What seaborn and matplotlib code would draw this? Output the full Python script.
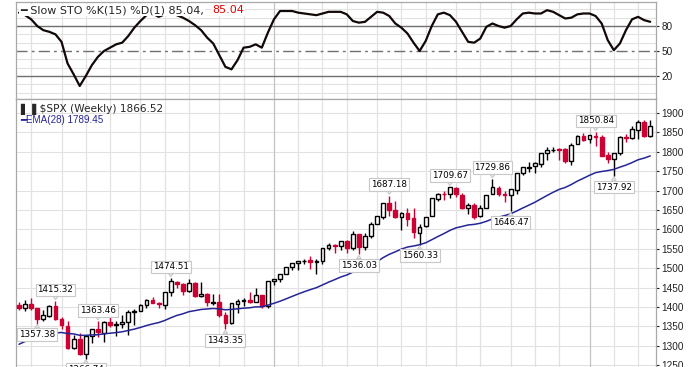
"""Weekly $SPX candlesticks with EMA(28) and a Slow Stochastic panel."""

import matplotlib

matplotlib.use("Agg")
import matplotlib.pyplot as plt
import numpy as np
import pandas as pd
import seaborn as sns

# ---- data (weekly bars from 2012-03-19 to 2014-03-17) ----
week_start = "2012-03-19"
n_weeks = 105

opens = [
    1404, 1397, 1408, 1397, 1370, 1378, 1403, 1368, 1351, 1295,
    1318, 1278, 1325, 1343, 1334, 1362, 1354, 1357, 1362, 1386,
    1391, 1405, 1418, 1411, 1406, 1438, 1465, 1460, 1441, 1461,
    1428, 1433, 1410, 1414, 1380, 1360, 1409, 1416, 1418, 1413,
    1430, 1402, 1466, 1472, 1486, 1503, 1513, 1518, 1520, 1515,
    1518, 1551, 1560, 1557, 1569, 1553, 1588, 1555, 1582, 1614,
    1633, 1667, 1650, 1631, 1643, 1630, 1590, 1609, 1634, 1679,
    1692, 1690, 1708, 1688, 1655, 1664, 1635, 1656, 1691, 1707,
    1688, 1688, 1702, 1745, 1759, 1763, 1769, 1798, 1804, 1806,
    1806, 1776, 1819, 1841, 1832, 1842, 1837, 1791, 1782, 1797,
    1838, 1836, 1857, 1878, 1842,
]
highs = [
    1414, 1419, 1422, 1397, 1392, 1406, 1415.32, 1373, 1365, 1328,
    1334, 1329, 1343, 1363.46, 1363, 1375, 1365, 1380, 1392, 1395,
    1407, 1420, 1426, 1414, 1438, 1474.51, 1467, 1463, 1471, 1464,
    1464, 1435, 1434, 1434, 1388, 1409, 1421, 1424, 1439, 1448,
    1431, 1468, 1473, 1486, 1503, 1514, 1518, 1524, 1531, 1525,
    1552, 1564, 1563, 1570, 1573, 1597, 1589, 1592, 1618, 1635,
    1668, 1687.18, 1674, 1646, 1654, 1654, 1615, 1632, 1680, 1693,
    1698, 1709.67, 1709, 1694, 1669, 1669, 1664, 1689, 1729.86, 1711,
    1699, 1704, 1745, 1760, 1775, 1774, 1798, 1813, 1813, 1810,
    1811, 1823, 1844, 1849, 1843, 1850.84, 1844, 1799, 1798, 1841,
    1847, 1867, 1883, 1882, 1883,
]
lows = [
    1392, 1391, 1392, 1357.38, 1365, 1375, 1367, 1343, 1292, 1291,
    1277, 1266.74, 1306, 1324, 1309, 1348, 1325, 1345, 1329, 1354,
    1391, 1398, 1410, 1397, 1396, 1429, 1450, 1430, 1439, 1425,
    1426, 1403, 1405, 1373, 1343.35, 1357, 1385, 1403, 1411, 1413,
    1398, 1398, 1456, 1465, 1485, 1495, 1495, 1511, 1497, 1485,
    1512, 1548, 1538, 1546, 1539, 1548, 1536.03, 1548, 1577, 1613,
    1628, 1635, 1630, 1598, 1608, 1577, 1560.33, 1605, 1634, 1672,
    1676, 1682, 1683, 1652, 1639, 1627, 1633, 1656, 1691, 1687,
    1670, 1646.47, 1692, 1740, 1747, 1746, 1761, 1780, 1799, 1779,
    1772, 1767, 1819, 1827, 1823, 1815, 1790, 1770, 1737.92, 1792,
    1825, 1834, 1834, 1839, 1839,
]
closes = [
    1397.11, 1408.47, 1398.08, 1370.26, 1378.53, 1403.36, 1369.10, 1353.39, 1295.22, 1317.82,
    1278.04, 1325.66, 1342.84, 1335.02, 1362.16, 1354.68, 1356.78, 1362.66, 1385.97, 1390.99,
    1405.87, 1418.16, 1411.13, 1406.58, 1437.92, 1465.77, 1460.15, 1440.67, 1460.93, 1428.59,
    1433.19, 1411.94, 1414.20, 1379.85, 1359.88, 1409.15, 1416.18, 1418.07, 1413.58, 1430.15,
    1402.43, 1466.47, 1472.05, 1485.98, 1502.96, 1513.17, 1517.93, 1519.79, 1515.60, 1518.20,
    1551.18, 1560.70, 1556.89, 1569.19, 1553.28, 1588.85, 1555.25, 1582.24, 1614.42, 1633.70,
    1667.47, 1649.60, 1630.74, 1643.38, 1626.73, 1592.43, 1606.28, 1631.89, 1680.19, 1692.09,
    1691.65, 1709.67, 1691.42, 1655.83, 1663.50, 1632.97, 1655.17, 1687.99, 1709.91, 1691.75,
    1690.50, 1703.20, 1744.50, 1759.77, 1761.64, 1770.61, 1798.18, 1804.76, 1805.81, 1805.09,
    1775.32, 1818.32, 1841.40, 1831.37, 1842.37, 1838.70, 1790.29, 1782.59, 1797.02, 1838.63,
    1836.25, 1859.45, 1878.04, 1841.13, 1866.52,
]
close_before_first = 1404.17

ema28 = [
    1304.0, 1311.2, 1317.2, 1320.9, 1324.9, 1330.3, 1333.0, 1334.4, 1331.7, 1330.7,
    1327.1, 1327.0, 1328.1, 1328.6, 1330.9, 1332.5, 1334.2, 1336.2, 1339.6, 1343.1,
    1347.4, 1352.3, 1356.4, 1359.9, 1365.3, 1372.2, 1378.3, 1382.6, 1388.0, 1390.8,
    1393.7, 1395.0, 1396.3, 1395.2, 1392.8, 1393.9, 1395.4, 1397.0, 1398.1, 1400.3,
    1400.4, 1405.0, 1409.6, 1414.9, 1421.0, 1427.4, 1433.6, 1439.5, 1444.8, 1449.9,
    1456.9, 1464.1, 1470.5, 1477.3, 1482.5, 1489.8, 1494.3, 1500.4, 1508.3, 1517.0,
    1527.4, 1535.8, 1542.3, 1549.3, 1554.6, 1557.2, 1560.6, 1565.5, 1573.4, 1581.6,
    1589.2, 1597.5, 1604.0, 1607.6, 1611.5, 1613.0, 1615.9, 1620.9, 1627.0, 1631.5,
    1635.6, 1640.3, 1647.5, 1655.2, 1662.5, 1670.0, 1678.8, 1687.5, 1695.7, 1703.2,
    1708.2, 1715.8, 1724.5, 1731.9, 1739.5, 1746.3, 1749.3, 1751.6, 1754.7, 1760.5,
    1765.7, 1772.2, 1779.5, 1783.8, 1789.45,
]

slow_sto = [
    96, 93, 88, 80, 75, 73, 70, 61, 35, 22,
    8, 20, 33, 43, 50, 54, 58, 60, 68, 78,
    86, 93, 95, 91, 94, 96, 93, 90, 86, 81,
    75, 66, 59, 45, 31, 28, 39, 54, 55, 58,
    54, 72, 88, 98, 98, 98, 96, 95, 94, 93,
    95, 97, 97, 97, 94, 86, 84, 85, 91, 97,
    96, 92, 83, 78, 71, 60, 50, 62, 80, 94,
    96, 93, 85, 73, 61, 60, 65, 79, 83, 80,
    78, 80, 88, 95, 96, 95, 95, 99, 97, 93,
    89, 90, 94, 95, 95, 92, 83, 63, 51, 59,
    75, 88, 91, 87, 85.04,
]

# annotated swing highs / lows: (week index, value, side)
swing_idx = [3, 6, 11, 13, 25, 34, 56, 61, 66, 71, 78, 81, 95, 98]
swing_val = [1357.38, 1415.32, 1266.74, 1363.46, 1474.51, 1343.35, 1536.03,
             1687.18, 1560.33, 1709.67, 1729.86, 1646.47, 1850.84, 1737.92]
swing_side = ["low", "high", "low", "high", "high", "low", "low",
              "high", "low", "high", "high", "low", "high", "low"]

price_ticks = list(range(1250, 1901, 50))
sto_ticks = [20, 50, 80]

# ---- style ----
RED = "#cc0033"
NAVY = "#252596"
GRID = "#e2e2e2"
YEAR_GRID = "#c4c4c4"
FRAME = "#a8a8a8"
FONTS = ["DejaVu Sans", "Liberation Sans"]
ARIAL = ["Liberation Sans", "DejaVu Sans"]

sns.set_style("white")
plt.rcParams["font.family"] = FONTS

df = pd.DataFrame(
    {
        "week": pd.date_range(week_start, periods=n_weeks, freq="W-MON"),
        "open": opens,
        "high": highs,
        "low": lows,
        "close": closes,
        "ema": ema28,
        "sto": slow_sto,
    }
)
df["i"] = np.arange(len(df))
prev_close = df["close"].shift(1).fillna(close_before_first)
df["edge"] = np.where(df["close"] < prev_close, RED, "black")
df["face"] = np.where(df["close"] >= df["open"], "white", df["edge"])

month_start = df["week"].dt.month != df["week"].dt.month.shift(1)
year_start = df["week"].dt.year != df["week"].dt.year.shift(1)
month_lines = df.loc[month_start & (df["i"] > 0), "i"].tolist()
year_lines = set(df.loc[year_start & (df["i"] > 0), "i"])

fig = plt.figure(figsize=(7.0, 3.67), dpi=100)
W, H = 700, 367
left, right = 16 / W, 656 / W
ax_sto = fig.add_axes([left, 1 - 99 / H, right - left, 97 / H])
ax_px = fig.add_axes([left, 1 - 375 / H, right - left, 276 / H])

xlim = (-0.5, 104.95)


def style_panel(ax):
    for x in month_lines:
        c = YEAR_GRID if x in year_lines else GRID
        ax.axvline(x, color=c, lw=0.9, zorder=0)
    ax.yaxis.tick_right()
    ax.tick_params(axis="y", which="both", length=2, pad=2, labelsize=7.2,
                   colors="#222222")
    for lab in ax.get_yticklabels():
        lab.set_family(ARIAL)
    ax.tick_params(axis="x", bottom=False, labelbottom=False)
    for s in ax.spines.values():
        s.set_color(FRAME)
        s.set_linewidth(0.9)
    ax.set_xlim(*xlim)
    ax.set_xlabel("")
    ax.set_ylabel("")


# ---- stochastic panel ----
ax_sto.set_ylim(-7.6, 108.8)
for lvl in [0, 10, 30, 40, 60, 70, 90, 100]:
    ax_sto.axhline(lvl, color=GRID, lw=0.8, zorder=0)
ax_sto.axhline(80, color="#707070", lw=1.0, zorder=1)
ax_sto.axhline(20, color="#707070", lw=1.0, zorder=1)
ax_sto.axhline(50, color="#707070", lw=1.0, ls=(0, (8, 3, 2, 3)), zorder=1)
sns.lineplot(data=df, x="i", y="sto", ax=ax_sto, color="#120808", lw=1.6,
             zorder=3, legend=False)
ax_sto.set_yticks(sto_ticks)
style_panel(ax_sto)
ax_sto.text(0.006, 0.915, "\u2501 Slow STO %K(15) %D(1) 85.04,", transform=ax_sto.transAxes,
            fontsize=8.0, va="center", ha="left", zorder=5,
            bbox=dict(boxstyle="square,pad=0.08", fc="white", ec="none"))
ax_sto.text(0.306, 0.915, "85.04", transform=ax_sto.transAxes, color="#e00000",
            fontsize=8.0, va="center", ha="left", zorder=5,
            bbox=dict(boxstyle="square,pad=0.08", fc="white", ec="none"))

# ---- price panel ----
ax_px.set_ylim(1224.8, 1936.1)
for lvl in price_ticks:
    ax_px.axhline(lvl, color=GRID, lw=0.8, zorder=0)

ax_px.vlines(df["i"], df["low"], df["high"], colors=df["edge"], lw=1.0, zorder=2)
ax_px.bar(df["i"], (df["close"] - df["open"]).abs().clip(lower=0.6),
          bottom=df[["open", "close"]].min(axis=1), width=0.62,
          color=df["face"], edgecolor=df["edge"], linewidth=1.0, zorder=3)
sns.lineplot(data=df, x="i", y="ema", ax=ax_px, color=NAVY, lw=1.1, zorder=4,
             legend=False)
ax_px.set_yticks(price_ticks)
style_panel(ax_px)

for i, v, side in zip(swing_idx, swing_val, swing_side):
    dy = 8 if side == "high" else -8
    ax_px.annotate(
        f"{v:.2f}", xy=(i, v), xytext=(0, dy), textcoords="offset points",
        ha="center", va="center", fontsize=6.3, color="black", zorder=6,
        bbox=dict(boxstyle="square,pad=0.22", fc="white", ec="#c8c8c8", lw=0.8),
        arrowprops=dict(arrowstyle="wedge,tail_width=0.5,shrink_factor=0.5",
                        fc="white", ec="#c8c8c8", lw=0.8, shrinkA=0, shrinkB=1),
    )

ax_px.text(0.006, 0.962, "\u258c\u2590 $SPX (Weekly) 1866.52", transform=ax_px.transAxes,
           fontsize=7.6, va="center", ha="left", zorder=5)
ax_px.text(0.006, 0.923, "\u2501EMA(28) 1789.45", transform=ax_px.transAxes,
           fontsize=7.1, va="center", ha="left", color=NAVY, zorder=5,
           family=ARIAL)

fig.savefig("out.png", dpi=100)
plt.close(fig)
